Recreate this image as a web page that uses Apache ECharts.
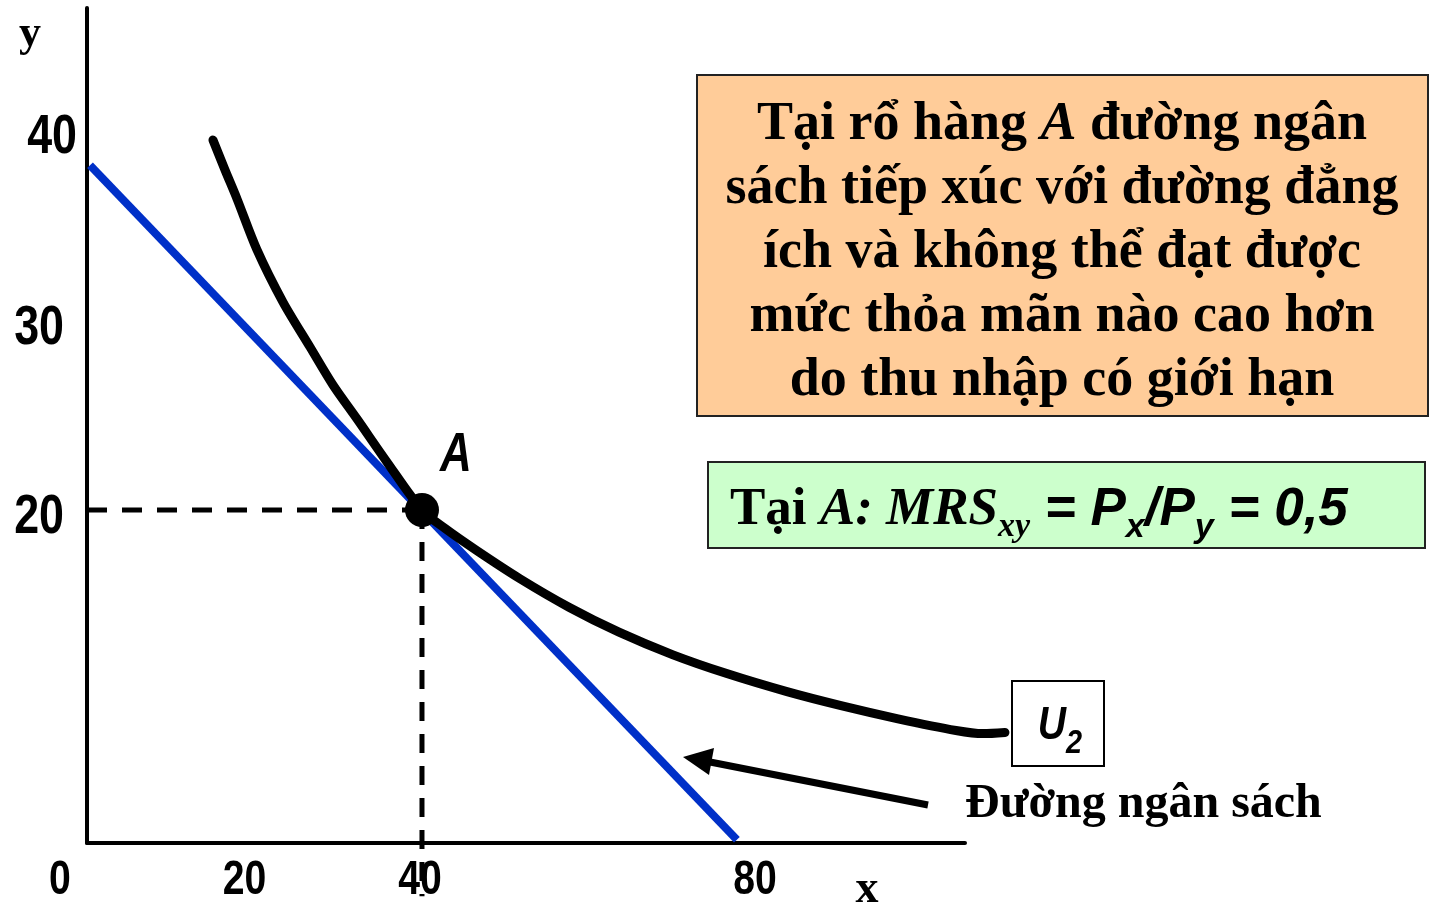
<!DOCTYPE html>
<html>
<head>
<meta charset="utf-8">
<script src="https://cdn.jsdelivr.net/npm/echarts@6/dist/echarts.min.js"></script>
<style>
html, body { margin: 0; padding: 0; background: #fff; }
#chart { width: 1430px; height: 908px; }
</style>
</head>
<body>
<div id="chart"></div>
<script>
// axis tick labels
const xTicks = [0, 20, 40, 80];
const yTicks = [20, 30, 40];

// budget line
const budgetLine = [[0.36, 40.7], [77.6, 0.2]];

// indifference curve U2
const curveU2 = [
  [15.04, 42.22], [16.48, 40.42], [17.91, 38.69], [20.3, 35.62], [23.4, 32.49],
  [26.63, 29.79], [29.37, 27.51], [32.24, 25.47], [35.82, 22.88], [40, 20],
  [42.75, 18.89], [46.57, 17.55], [51.7, 15.87], [57.55, 14.16], [63.52, 12.66],
  [69.97, 11.3], [76.3, 10.19], [83.58, 9.09], [90.03, 8.25], [96.84, 7.46],
  [103.76, 6.76], [106.99, 6.57], [109.61, 6.64]
];

// optimum basket A and its guide lines
const pointA = [[40, 20]];
const guideH = [[0, 20], [40, 20]];
const guideV = [[40, 20], [40, -3.2]];

// label nudges (px), the tick labels in the picture sit a bit off their ticks
const xLabelDx = { 0: -27, 20: -10, 40: -2, 80: -2 };
const yLabelOff = { 40: [-10, -39], 30: [-23, -15], 20: [-23, 8] };

const serif = "'Liberation Serif', 'Times New Roman', serif";
const sans = "'Liberation Sans', Arial, sans-serif";

const chart = echarts.init(document.getElementById('chart'));

const hiddenAxis = { show: false, splitLine: { show: false } };

chart.setOption({
  animation: false,
  grid: [
    { left: 87, top: 8, width: 878, height: 835, outerBoundsMode: 'none' },
    // same scale, wider box, so the end of U2 is not cut at the axis end
    { left: 87, top: 8, width: 929.6, height: 835, outerBoundsMode: 'none' }
  ],
  xAxis: [
    {
      type: 'value', gridIndex: 0, min: 0, max: 104.84,
      axisLine: { lineStyle: { color: '#000', width: 4 } },
      axisTick: { show: false },
      splitLine: { show: false },
      axisLabel: { show: false }
    },
    { type: 'value', gridIndex: 1, min: 0, max: 111, ...hiddenAxis }
  ],
  yAxis: [
    {
      type: 'value', gridIndex: 0, min: 0, max: 50.15,
      axisLine: { lineStyle: { color: '#000', width: 4 } },
      axisTick: { show: false },
      splitLine: { show: false },
      axisLabel: { show: false }
    },
    { type: 'value', gridIndex: 1, min: 0, max: 50.15, ...hiddenAxis }
  ],
  series: [
    {
      name: 'Đường ngân sách',
      type: 'line',
      data: budgetLine,
      symbol: 'none',
      lineStyle: { color: '#0030c8', width: 8 },
      z: 2
    },
    {
      name: 'U2',
      type: 'line',
      xAxisIndex: 1,
      yAxisIndex: 1,
      data: curveU2,
      smooth: 0.3,
      symbol: 'none',
      lineStyle: { color: '#000', width: 9, cap: 'round', join: 'round' },
      z: 3
    },
    {
      type: 'line',
      data: guideH,
      symbol: 'none',
      lineStyle: { color: '#000', width: 5, type: [20, 15] },
      z: 1
    },
    {
      type: 'line',
      data: guideV,
      symbol: 'none',
      clip: false,
      lineStyle: { color: '#000', width: 5, type: [19, 13] },
      z: 1
    },
    {
      type: 'scatter',
      data: pointA,
      symbolSize: 34,
      itemStyle: { color: '#000', opacity: 1 },
      z: 5
    },
    // x tick labels
    {
      type: 'custom',
      data: xTicks.map(v => [v, 0]),
      z: 6,
      renderItem: (params, api) => {
        const v = api.value(0);
        const p = api.coord([v, 0]);
        return {
          type: 'text', x: p[0] + xLabelDx[v], y: p[1] + 37, scaleX: 0.8,
          style: { text: String(v), font: 'bold 49px ' + sans, fill: '#000', align: 'center', verticalAlign: 'middle' }
        };
      }
    },
    // y tick labels
    {
      type: 'custom',
      data: yTicks.map(v => [0, v]),
      z: 6,
      renderItem: (params, api) => {
        const v = api.value(1);
        const p = api.coord([0, v]);
        const off = yLabelOff[v];
        return {
          type: 'text', x: p[0] + off[0], y: p[1] + off[1], scaleX: 0.8,
          style: { text: String(v), font: 'bold 56px ' + sans, fill: '#000', align: 'right', verticalAlign: 'middle' }
        };
      }
    }
  ],
  graphic: [
    // axis names
    { type: 'text', x: 30, y: 35, style: { text: 'y', font: 'bold 44px ' + serif, fill: '#000', align: 'center', verticalAlign: 'middle' } },
    { type: 'text', x: 867, y: 890, style: { text: 'x', font: 'bold 46px ' + serif, fill: '#000', align: 'center', verticalAlign: 'middle' } },
    // point label
    { type: 'text', x: 456, y: 456, scaleX: 0.8, style: { text: 'A', font: 'italic bold 55px ' + sans, fill: '#000', align: 'center', verticalAlign: 'middle' } },
    // explanation box
    {
      type: 'rect', shape: { x: 697, y: 75, width: 731, height: 341 },
      style: { fill: '#FFCC99', stroke: '#222', lineWidth: 2 }
    },
    {
      type: 'text', x: 1062, y: 253,
      style: {
        text: '{b|Tại rổ hàng }{i|A}{b| đường ngân}\n{b|sách tiếp xúc với đường đẳng}\n{b|ích và không thể đạt được}\n{b|mức thỏa mãn nào cao hơn}\n{b|do thu nhập có giới hạn}',
        align: 'center', verticalAlign: 'middle',
        rich: {
          b: { fontFamily: serif, fontWeight: 'bold', fontSize: 54, lineHeight: 64, align: 'center', color: '#000' },
          i: { fontFamily: serif, fontWeight: 'bold', fontStyle: 'italic', fontSize: 54, lineHeight: 64, align: 'center', color: '#000' }
        }
      }
    },
    // condition box
    {
      type: 'rect', shape: { x: 708, y: 462, width: 717, height: 86 },
      style: { fill: '#CCFFCC', stroke: '#222', lineWidth: 2 }
    },
    {
      type: 'text', x: 730, y: 514,
      style: {
        text: '{b|Tại }{bi|A: MRS}{bs|xy}{s| = P}{ss|x}{s|/P}{ss|y}{s| = 0,5}',
        align: 'left', verticalAlign: 'middle',
        rich: {
          b: { fontFamily: serif, fontWeight: 'bold', fontSize: 53, padding: [0, 0, 8, 0], verticalAlign: 'bottom', color: '#000' },
          bi: { fontFamily: serif, fontWeight: 'bold', fontStyle: 'italic', fontSize: 53, padding: [0, 0, 8, 0], verticalAlign: 'bottom', color: '#000' },
          bs: { fontFamily: serif, fontWeight: 'bold', fontStyle: 'italic', fontSize: 34, verticalAlign: 'bottom', color: '#000' },
          s: { fontFamily: sans, fontWeight: 'bold', fontStyle: 'italic', fontSize: 53, padding: [0, 0, 8, 0], verticalAlign: 'bottom', color: '#000' },
          ss: { fontFamily: sans, fontWeight: 'bold', fontStyle: 'italic', fontSize: 34, verticalAlign: 'bottom', color: '#000' }
        }
      }
    },
    // U2 tag
    {
      type: 'rect', shape: { x: 1012, y: 681, width: 92, height: 85 },
      style: { fill: '#fff', stroke: '#000', lineWidth: 2 }
    },
    {
      type: 'text', x: 1060, y: 732, scaleX: 0.85,
      style: {
        text: '{u|U}{s|2}',
        align: 'center', verticalAlign: 'middle',
        rich: {
          u: { fontFamily: sans, fontWeight: 'bold', fontStyle: 'italic', fontSize: 46, padding: [0, 0, 11, 0], verticalAlign: 'bottom', color: '#000' },
          s: { fontFamily: sans, fontWeight: 'bold', fontStyle: 'italic', fontSize: 34, verticalAlign: 'bottom', color: '#000' }
        }
      }
    },
    // arrow to the budget line
    { type: 'line', shape: { x1: 928, y1: 805, x2: 705, y2: 761 }, style: { stroke: '#000', lineWidth: 7 } },
    { type: 'polygon', shape: { points: [[683, 757], [709, 775], [714, 748]] }, style: { fill: '#000' } },
    { type: 'text', x: 965, y: 805, style: { text: 'Đường ngân sách', font: 'bold 48px ' + serif, fill: '#000', align: 'left', verticalAlign: 'middle' } }
  ]
});
</script>
</body>
</html>
